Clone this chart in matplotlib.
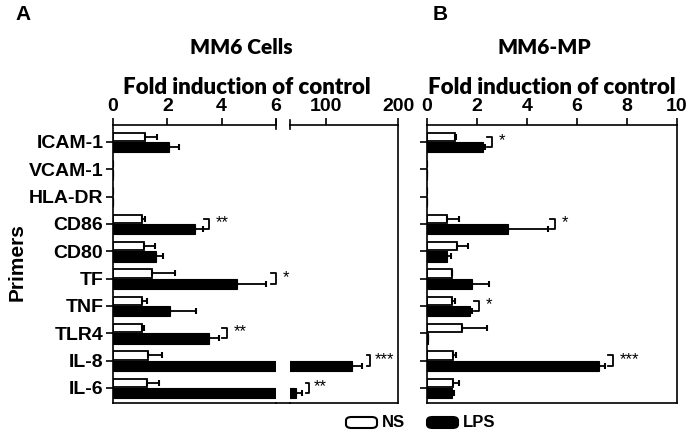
import numpy as np
import matplotlib
matplotlib.use("Agg")
import matplotlib.pyplot as plt
from matplotlib.lines import Line2D
from matplotlib.patches import FancyBboxPatch

# data
primers = ['ICAM-1', 'VCAM-1', 'HLA-DR', 'CD86', 'CD80', 'TF', 'TNF', 'TLR4', 'IL-8', 'IL-6']

mm6_ns      = [1.18, 0, 0, 1.05, 1.14, 1.45, 1.05, 1.05, 1.30, 1.24]
mm6_ns_err  = [0.44, 0, 0, 0.13, 0.40, 0.83, 0.19, 0.10, 0.50, 0.45]
mm6_lps     = [2.06, 0, 0, 3.01, 1.58, 4.57, 2.10, 3.53, 135.7, 58.0]
mm6_lps_err = [0.37, 0, 0, 0.29, 0.25, 1.08, 0.97, 0.37, 13.8, 8.0]

mp_ns       = [1.12, 0, 0, 0.79, 1.20, 0.99, 1.00, 1.41, 1.05, 1.05]
mp_ns_err   = [0.03, 0, 0, 0.49, 0.43, 0.00, 0.12, 0.99, 0.12, 0.23]
mp_lps      = [2.23, 0, 0, 3.25, 0.80, 1.81, 1.72, 0.05, 6.89, 1.01]
mp_lps_err  = [0.09, 0, 0, 1.58, 0.16, 0.67, 0.07, 0.00, 0.23, 0.08]

# significance brackets: (row, x position, label)
sig_a = [(3, 3.53, '**'), (5, 6.0, '*'), (7, 4.2, '**')]
sig_a_big = [(8, 161, '***'), (9, 77, '**')]
sig_b = [(0, 2.59, '*'), (3, 5.12, '*'), (6, 2.08, '*'), (8, 7.43, '***')]

W, H = 694, 436
fig = plt.figure(figsize=(W / 100, H / 100), dpi=100)

tickfont = dict(family='Liberation Sans', weight='bold', size=14)
headfont = dict(family='Lato', weight='heavy')

def fx(px):
    return px / W

def fy(py):
    return 1 - py / H

top, bot = 125, 403
axL = fig.add_axes([fx(113), fy(bot), fx(276 - 113), (bot - top) / H])
axR = fig.add_axes([fx(290), fy(bot), fx(398 - 290), (bot - top) / H])
axB = fig.add_axes([fx(427), fy(bot), fx(677 - 427), (bot - top) / H])

y = np.arange(len(primers))
off = 0.19
lw = 1.2

def draw(ax, ns, ns_err, lps, lps_err):
    ax.barh(y - off, ns, height=0.3, color='white', edgecolor='black', linewidth=1.3, zorder=2)
    ax.barh(y + off, lps, height=0.38, color='black', edgecolor='black', linewidth=0.8, zorder=2)
    ax.errorbar(ns, y - off, xerr=[np.zeros(len(ns)), ns_err], fmt='none', ecolor='black',
                elinewidth=1.3, capsize=2.5, capthick=1.5, zorder=3)
    ax.errorbar(lps, y + off, xerr=[np.zeros(len(lps)), lps_err], fmt='none', ecolor='black',
                elinewidth=1.3, capsize=2.5, capthick=1.5, zorder=3)
    ax.set_ylim(9.55, -0.62)
    ax.xaxis.tick_top()
    ax.tick_params(axis='x', direction='out', length=5, width=lw, pad=2)
    for s in ax.spines.values():
        s.set_linewidth(lw)

def brackets(ax, sigs, dx):
    for row, x, txt in sigs:
        y0, y1 = row - off, row + off
        ax.plot([x - dx, x, x, x - dx], [y0, y0, y1, y1], color='black', lw=1.3, clip_on=False)
        ax.text(x + dx * 1.4, row - 0.05, txt, ha='left', va='center', fontsize=12,
                family='Liberation Sans', clip_on=False)

# panel A, broken axis
draw(axL, mm6_ns, mm6_ns_err, mm6_lps, mm6_lps_err)
axL.set_xlim(0, 6)
axL.set_xticks([0, 2, 4, 6])
axL.set_xticklabels(['0', '2', '4', '6'], fontdict=tickfont)
axL.spines['right'].set_visible(False)
axL.set_yticks(y)
axL.set_yticklabels(primers, fontdict=tickfont)
axL.tick_params(axis='y', direction='out', length=5, width=lw, pad=2)
axL.plot([1, 1], [0.985, 1.018], color='black', lw=lw, transform=axL.transAxes, clip_on=False)
brackets(axL, sig_a, 0.18)

draw(axR, mm6_ns, mm6_ns_err, mm6_lps, mm6_lps_err)
axR.set_xlim(50, 200)
axR.set_xticks([100, 200])
axR.set_xticklabels(['100', '200'], fontdict=tickfont)
axR.spines['left'].set_visible(False)
axR.set_yticks([])
axR.plot([0, 0], [0.985, 1.018], color='black', lw=lw, transform=axR.transAxes, clip_on=False)
brackets(axR, sig_a_big, 4.5)

fig.add_artist(Line2D([fx(276), fx(290)], [fy(bot), fy(bot)], color='black', lw=lw))

# panel B
draw(axB, mp_ns, mp_ns_err, mp_lps, mp_lps_err)
axB.set_xlim(0, 10)
axB.set_xticks([0, 2, 4, 6, 8, 10])
axB.set_xticklabels(['0', '2', '4', '6', '8', '10'], fontdict=tickfont)
axB.set_yticks(y)
axB.set_yticklabels([])
axB.tick_params(axis='y', direction='out', length=5, width=lw)
brackets(axB, sig_b, 0.2)

# headings
fig.text(fx(15), fy(14), 'A', ha='left', va='center', fontsize=15, family='Liberation Sans', weight='bold')
fig.text(fx(433), fy(15), 'B', ha='left', va='center', fontsize=15, family='Liberation Sans', weight='bold')
fig.text(fx(241), fy(48), 'MM6 Cells', ha='center', va='center', size=15, **headfont)
fig.text(fx(544), fy(48), 'MM6-MP', ha='center', va='center', size=15, **headfont)
fig.text(fx(247), fy(88), 'Fold induction of control', ha='center', va='center', size=16, **headfont)
fig.text(fx(552), fy(88), 'Fold induction of control', ha='center', va='center', size=16, **headfont)
fig.text(fx(17), fy(262), 'Primers', ha='center', va='center', rotation=90,
         family='Liberation Sans', weight='bold', size=15)

# legend
for x0, face, lab in [(346, 'white', 'NS'), (427, 'black', 'LPS')]:
    fig.patches.append(FancyBboxPatch((fx(x0), fy(428)), fx(31), (428 - 417) / H,
                                      boxstyle='round,pad=0,rounding_size=0.008',
                                      facecolor=face, edgecolor='black', lw=1.5,
                                      transform=fig.transFigure, figure=fig))
    fig.text(fx(x0 + 36), fy(422.5), lab, ha='left', va='center', family='Liberation Sans',
             weight='bold', size=12)

fig.savefig('out.png', dpi=100)
